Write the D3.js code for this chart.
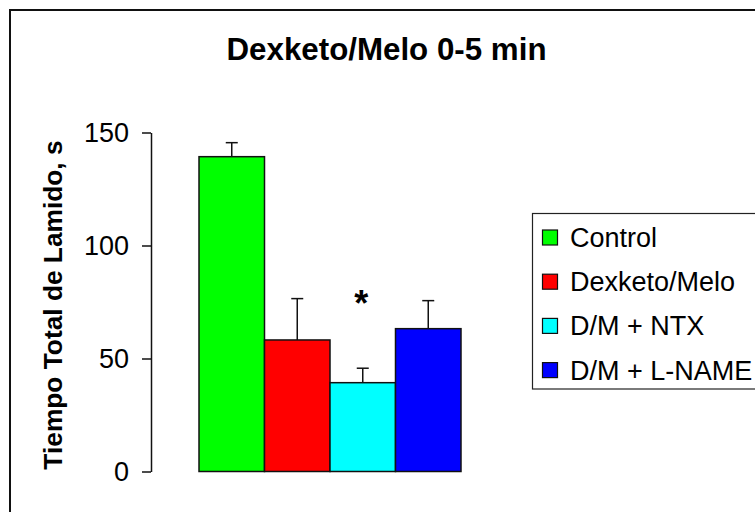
<!DOCTYPE html>
<html>
<head>
<meta charset="utf-8">
<script src="https://cdn.jsdelivr.net/npm/d3@7"></script>
<style>
  body { margin: 0; background: #fff; }
  svg { display: block; font-family: "Liberation Sans", Arial, sans-serif; }
</style>
</head>
<body>
<div id="chart"></div>
<script>
var groups = ["Control", "Dexketo/Melo", "D/M + NTX", "D/M + L-NAME"];
var means = [139.3, 58.2, 39.3, 63.2];
var sems = [6.2, 18.3, 6.4, 12.4];
var colors = ["#00ff00", "#ff0000", "#00ffff", "#0000ff"];
var yTicks = [0, 50, 100, 150];
var marks = ["", "", "*", ""];

var width = 755,
    height = 512;

var svg = d3.select("#chart").append("svg")
    .attr("width", width)
    .attr("height", height);

// outer frame, runs off the right and bottom edges
svg.append("rect")
    .attr("x", 10).attr("y", 10)
    .attr("width", 800).attr("height", 600)
    .attr("fill", "none")
    .attr("stroke", "#111")
    .attr("stroke-width", 2);

svg.append("text")
    .attr("x", 386.5).attr("y", 60)
    .attr("text-anchor", "middle")
    .attr("font-size", 31.3)
    .attr("font-weight", "bold")
    .text("Dexketo/Melo 0-5 min");

var x = d3.scaleBand()
    .domain(groups)
    .range([199, 461])
    .padding(0);

var y = d3.scaleLinear()
    .domain([0, 150])
    .range([471.5, 132.5]);

var yAxis = svg.append("g")
    .attr("transform", "translate(151,0)")
    .call(d3.axisLeft(y).tickValues(yTicks).tickSize(9).tickSizeOuter(0).tickPadding(13));
yAxis.select(".domain").attr("stroke", "#111").attr("stroke-width", 1.5);
yAxis.selectAll(".tick line").attr("stroke", "#111").attr("stroke-width", 1.5);
yAxis.selectAll(".tick text")
    .attr("font-size", 27)
    .attr("font-family", "Liberation Sans, Arial, sans-serif")
    .attr("fill", "#000");

svg.append("text")
    .attr("transform", "translate(62,305) rotate(-90)")
    .attr("text-anchor", "middle")
    .attr("font-size", 26.3)
    .attr("font-weight", "bold")
    .text("Tiempo Total de Lamido, s");

var data = groups.map(function(g, i) {
  return { name: g, mean: means[i], sem: sems[i], color: colors[i], mark: marks[i] };
});

// error bars (upper only)
var err = svg.selectAll(".err")
    .data(data)
    .enter().append("g")
    .attr("class", "err")
    .attr("stroke", "#111")
    .attr("stroke-width", 1.5);
err.append("line")
    .attr("x1", function(d) { return x(d.name) + x.bandwidth() / 2; })
    .attr("x2", function(d) { return x(d.name) + x.bandwidth() / 2; })
    .attr("y1", function(d) { return y(d.mean); })
    .attr("y2", function(d) { return y(d.mean + d.sem); });
err.append("line")
    .attr("x1", function(d) { return x(d.name) + x.bandwidth() / 2 - 6; })
    .attr("x2", function(d) { return x(d.name) + x.bandwidth() / 2 + 6; })
    .attr("y1", function(d) { return y(d.mean + d.sem); })
    .attr("y2", function(d) { return y(d.mean + d.sem); });

svg.selectAll(".bar")
    .data(data)
    .enter().append("rect")
    .attr("class", "bar")
    .attr("x", function(d) { return x(d.name); })
    .attr("y", function(d) { return y(d.mean); })
    .attr("width", x.bandwidth())
    .attr("height", function(d) { return y(0) - y(d.mean); })
    .attr("fill", function(d) { return d.color; })
    .attr("stroke", "#111")
    .attr("stroke-width", 1.5);

svg.selectAll(".mark")
    .data(data)
    .enter().append("text")
    .attr("class", "mark")
    .attr("x", function(d) { return x(d.name) + x.bandwidth() / 2 - 1.5; })
    .attr("y", function(d) { return y(d.mean + d.sem) - 52; })
    .attr("text-anchor", "middle")
    .attr("font-size", 36)
    .attr("font-weight", "bold")
    .text(function(d) { return d.mark; });

// legend
var legend = svg.append("g");
legend.append("rect")
    .attr("x", 532.5).attr("y", 213.5)
    .attr("width", 300).attr("height", 175.5)
    .attr("fill", "#fff")
    .attr("stroke", "#222")
    .attr("stroke-width", 1.2);

var item = legend.selectAll(".item")
    .data(data)
    .enter().append("g")
    .attr("class", "item")
    .attr("transform", function(d, i) { return "translate(0," + (237.5 + i * 44.2) + ")"; });
item.append("rect")
    .attr("x", 542.5).attr("y", -7.5)
    .attr("width", 15).attr("height", 15)
    .attr("fill", function(d) { return d.color; })
    .attr("stroke", "#111")
    .attr("stroke-width", 1.2);
item.append("text")
    .attr("x", 570).attr("y", 9.5)
    .attr("font-size", 27)
    .text(function(d) { return d.name; });
</script>
</body>
</html>
